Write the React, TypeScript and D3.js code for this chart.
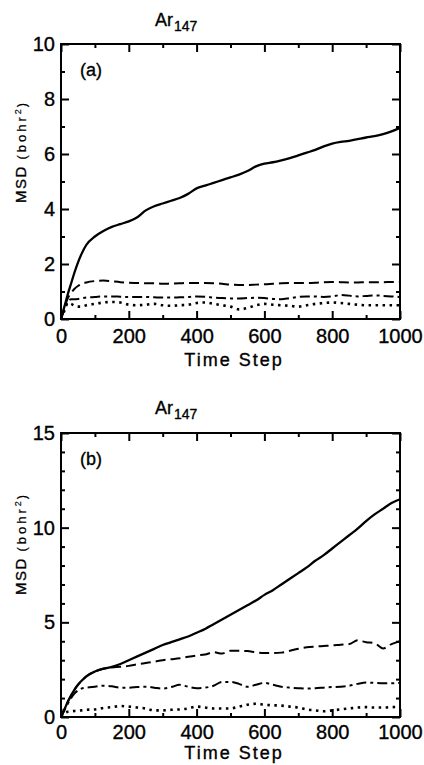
import React, { useEffect, useRef } from "react";
import * as d3 from "d3";

// time grid shared by every curve
const steps = [
  0, 10, 20, 30, 40, 50, 60, 75, 100, 125, 150, 175, 200, 225, 250, 275, 300,
  325, 350, 375, 400, 425, 450, 475, 500, 525, 550, 575, 600, 625, 650, 675,
  700, 725, 750, 775, 800, 825, 850, 875, 900, 925, 950, 975, 1000,
];

// panel (a)
const solidA = [
  0, 0.45, 0.9, 1.3, 1.7, 2.05, 2.35, 2.7, 3.0, 3.2, 3.35, 3.45, 3.55, 3.7,
  3.95, 4.1, 4.2, 4.3, 4.4, 4.55, 4.75, 4.85, 4.95, 5.05, 5.15, 5.25, 5.38,
  5.55, 5.65, 5.7, 5.77, 5.85, 5.95, 6.05, 6.15, 6.28, 6.38, 6.44, 6.48, 6.54,
  6.6, 6.65, 6.72, 6.82, 6.95,
];
const dashedA = [
  0, 0.4, 0.75, 0.95, 1.1, 1.2, 1.27, 1.33, 1.38, 1.4, 1.37, 1.34, 1.32, 1.31,
  1.3, 1.3, 1.28, 1.29, 1.3, 1.31, 1.31, 1.31, 1.3, 1.28, 1.25, 1.24, 1.24,
  1.25, 1.26, 1.28, 1.3, 1.31, 1.31, 1.31, 1.32, 1.34, 1.35, 1.34, 1.33, 1.33,
  1.34, 1.34, 1.34, 1.35, 1.35,
];
const dashDotA = [
  0, 0.35, 0.62, 0.72, 0.72, 0.73, 0.75, 0.78, 0.8, 0.82, 0.82, 0.81, 0.8, 0.8,
  0.8, 0.79, 0.78, 0.78, 0.79, 0.8, 0.82, 0.81, 0.78, 0.76, 0.75, 0.75, 0.76,
  0.77, 0.76, 0.73, 0.72, 0.76, 0.8, 0.82, 0.82, 0.8, 0.82, 0.87, 0.85, 0.82,
  0.84, 0.86, 0.84, 0.82, 0.8,
];
const dottedA = [
  0, 0.3, 0.58, 0.55, 0.48, 0.45, 0.45, 0.5, 0.55, 0.6, 0.62, 0.6, 0.52, 0.5,
  0.52, 0.55, 0.5, 0.48, 0.5, 0.52, 0.58, 0.6, 0.55, 0.5, 0.45, 0.35, 0.4, 0.5,
  0.55, 0.52, 0.5, 0.48, 0.45, 0.5, 0.55, 0.58, 0.6, 0.58, 0.55, 0.52, 0.5,
  0.5, 0.5, 0.5, 0.5,
];

// panel (b)
const solidB = [
  0, 0.4, 0.8, 1.15, 1.45, 1.7, 1.9, 2.15, 2.4, 2.55, 2.65, 2.8, 3.0, 3.2, 3.4,
  3.6, 3.8, 3.95, 4.1, 4.25, 4.45, 4.65, 4.9, 5.15, 5.4, 5.65, 5.9, 6.15, 6.45,
  6.7, 7.0, 7.3, 7.6, 7.9, 8.25, 8.55, 8.9, 9.25, 9.6, 9.95, 10.35, 10.7, 11.0,
  11.3, 11.5,
];
const dashedB = [
  0, 0.4, 0.8, 1.15, 1.45, 1.7, 1.9, 2.15, 2.4, 2.55, 2.62, 2.65, 2.7, 2.78,
  2.85, 2.92, 3.0, 3.05, 3.1, 3.18, 3.25, 3.3, 3.42, 3.35, 3.5, 3.5, 3.48, 3.42,
  3.38, 3.38, 3.4, 3.5, 3.6, 3.68, 3.72, 3.75, 3.78, 3.82, 3.85, 4.05, 3.95,
  3.9, 3.62, 3.85, 4.0,
];
const dashDotB = [
  0, 0.35, 0.7, 1.0, 1.25, 1.4, 1.5, 1.55, 1.6, 1.65, 1.62, 1.55, 1.55, 1.58,
  1.6, 1.55, 1.5, 1.58, 1.7, 1.6, 1.52, 1.55, 1.65, 1.85, 1.85, 1.75, 1.6, 1.7,
  1.8, 1.7, 1.6, 1.55, 1.52, 1.5, 1.52, 1.55, 1.58, 1.6, 1.65, 1.75, 1.82, 1.8,
  1.78, 1.78, 1.8,
];
const dottedB = [
  0, 0.2, 0.28, 0.3, 0.32, 0.33, 0.35, 0.38, 0.4, 0.48, 0.52, 0.58, 0.55, 0.5,
  0.45, 0.35, 0.35, 0.38, 0.4, 0.45, 0.55, 0.5, 0.45, 0.45, 0.45, 0.55, 0.65,
  0.7, 0.65, 0.62, 0.6, 0.55, 0.5, 0.4, 0.35, 0.3, 0.35, 0.4, 0.45, 0.5, 0.52,
  0.5, 0.5, 0.52, 0.55,
];

const xMajor = [0, 200, 400, 600, 800, 1000];
const xMinor = [100, 300, 500, 700, 900];
const yMajorA = [0, 2, 4, 6, 8, 10];
const yMinorA = [1, 3, 5, 7, 9];
const yMajorB = [0, 5, 10, 15];
const yMinorB = [1, 2, 3, 4, 6, 7, 8, 9, 11, 12, 13, 14];

const font = "'Liberation Sans', Arial, sans-serif";

const styles = {
  solid: { width: 2.3, dash: null },
  dashed: { width: 2, dash: "10,5" },
  dashDot: { width: 2, dash: "10,4,3,4" },
  dotted: { width: 2.6, dash: "2.5,4.5" },
};

// scanned lettering is a bit heavy: give text a thin outline
const ink = (sel: any) =>
  sel.attr("fill", "#000").attr("stroke", "#000").attr("stroke-width", 0.35);

const App = () => {
  const ref = useRef<SVGSVGElement>(null);
  const width = 424;
  const height = 765;

  useEffect(() => {
    const svg = d3.select(ref.current);
    svg.selectAll("*").remove();

    const x = d3.scaleLinear().domain([0, 1000]).range([61, 400]);

    const panels = [
      {
        top: 44, bottom: 319, yMax: 10, yMajor: yMajorA, yMinor: yMinorA,
        tag: "(a)", titleY: 26, labelPad: 10, xLabelY: 366, yLabelC: 153,
        series: [
          { v: solidA, s: styles.solid },
          { v: dashedA, s: styles.dashed },
          { v: dashDotA, s: styles.dashDot },
          { v: dottedA, s: styles.dotted },
        ],
      },
      {
        top: 433, bottom: 717, yMax: 15, yMajor: yMajorB, yMinor: yMinorB,
        tag: "(b)", titleY: 414, labelPad: 8, xLabelY: 759, yLabelC: 545,
        series: [
          { v: solidB, s: styles.solid },
          { v: dashedB, s: styles.dashed },
          { v: dashDotB, s: styles.dashDot },
          { v: dottedB, s: styles.dotted },
        ],
      },
    ];

    panels.forEach((p) => {
      const y = d3.scaleLinear().domain([0, p.yMax]).range([p.bottom, p.top]);
      const g = svg.append("g");

      // curves
      const line = d3
        .line<number>()
        .x((_, i) => x(steps[i]))
        .y((d) => y(d))
        .curve(d3.curveMonotoneX);
      p.series.forEach((sr) => {
        g.append("path")
          .attr("d", line(sr.v))
          .attr("fill", "none")
          .attr("stroke", "#000")
          .attr("stroke-width", sr.s.width)
          .attr("stroke-dasharray", sr.s.dash)
          .attr("stroke-linejoin", "round");
      });

      const noLabel = () => "";
      const axes = [
        g.append("g").attr("transform", `translate(0,${p.bottom})`)
          .call(d3.axisBottom(x).tickValues(xMajor).tickSize(-8).tickPadding(p.labelPad).tickFormat(d3.format("d"))),
        g.append("g").attr("transform", `translate(0,${p.bottom})`)
          .call(d3.axisBottom(x).tickValues(xMinor).tickSize(-4).tickFormat(noLabel)),
        g.append("g").attr("transform", `translate(0,${p.top})`)
          .call(d3.axisTop(x).tickValues(xMajor).tickSize(-8).tickFormat(noLabel)),
        g.append("g").attr("transform", `translate(0,${p.top})`)
          .call(d3.axisTop(x).tickValues(xMinor).tickSize(-4).tickFormat(noLabel)),
        g.append("g").attr("transform", `translate(61,0)`)
          .call(d3.axisLeft(y).tickValues(p.yMajor).tickSize(-8).tickPadding(6).tickFormat(d3.format("d"))),
        g.append("g").attr("transform", `translate(61,0)`)
          .call(d3.axisLeft(y).tickValues(p.yMinor).tickSize(-4).tickFormat(noLabel)),
        g.append("g").attr("transform", `translate(400,0)`)
          .call(d3.axisRight(y).tickValues(p.yMajor).tickSize(-8).tickFormat(noLabel)),
        g.append("g").attr("transform", `translate(400,0)`)
          .call(d3.axisRight(y).tickValues(p.yMinor).tickSize(-4).tickFormat(noLabel)),
      ];
      axes.forEach((a) => {
        a.select(".domain").remove();
        a.selectAll("line").attr("stroke", "#000").attr("stroke-width", 2);
        ink(a.selectAll("text").attr("font-family", font).attr("font-size", 20));
      });

      // frame
      g.append("rect")
        .attr("x", 61).attr("y", p.top)
        .attr("width", 339).attr("height", p.bottom - p.top)
        .attr("fill", "none").attr("stroke", "#000").attr("stroke-width", 2);

      // title Ar147
      const t = ink(g.append("text").attr("x", 155).attr("y", p.titleY)
        .attr("font-family", font).attr("font-size", 18));
      t.append("tspan").text("Ar");
      t.append("tspan").attr("font-size", 14).attr("dy", 5).attr("dx", 1).text("147");

      // panel tag
      ink(g.append("text").attr("x", 80).attr("y", p.top + 32)
        .attr("font-family", font).attr("font-size", 18))
        .text(p.tag);

      // x label
      ink(g.append("text").attr("x", 234).attr("y", p.xLabelY)
        .attr("text-anchor", "middle").attr("font-family", font)
        .attr("font-size", 18).attr("letter-spacing", 2))
        .text("Time Step");

      // y label
      const yl = ink(g.append("text")
        .attr("transform", `translate(26,${p.yLabelC}) rotate(-90)`)
        .attr("text-anchor", "middle").attr("font-family", font));
      yl.append("tspan").attr("font-size", 15).attr("letter-spacing", 1.5).text("MSD ");
      yl.append("tspan").attr("font-size", 13).attr("letter-spacing", 3).attr("stroke-width", 0.2).text("(bohr");
      yl.append("tspan").attr("font-size", 9).attr("dy", -5).attr("stroke-width", 0.2).text("2");
      yl.append("tspan").attr("font-size", 13).attr("dy", 5).attr("dx", 2).attr("stroke-width", 0.2).text(")");
    });
  }, []);

  return (
    <svg
      ref={ref}
      width={width}
      height={height}
      style={{ position: "absolute", left: 0, top: 0, background: "#fff" }}
    />
  );
};

export default App;
